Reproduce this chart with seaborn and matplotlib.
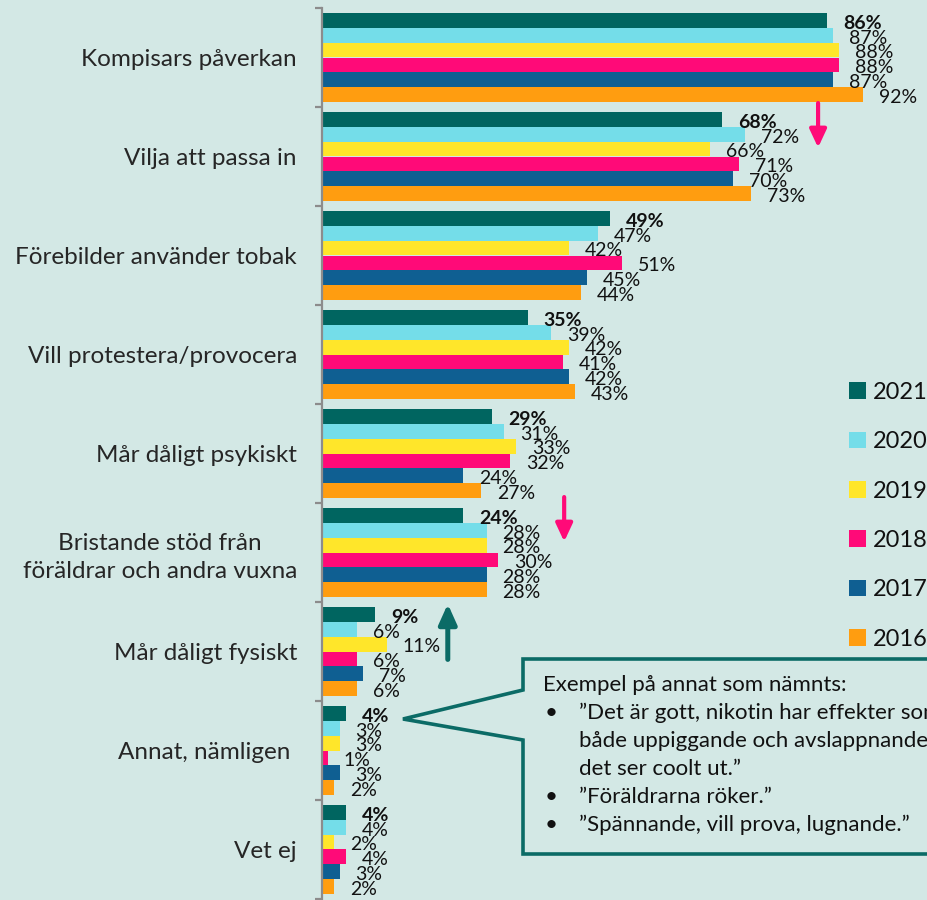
import matplotlib
matplotlib.use("Agg")
import matplotlib.pyplot as plt
import seaborn as sns
import pandas as pd
from matplotlib.lines import Line2D
from matplotlib.patches import Patch

# ---------------- data ----------------
categories = [
    "Kompisars påverkan",
    "Vilja att passa in",
    "Förebilder använder tobak",
    "Vill protestera/provocera",
    "Mår dåligt psykiskt",
    "Bristande stöd från\nföräldrar och andra vuxna",
    "Mår dåligt fysiskt",
    "Annat, nämligen ",
    "Vet ej",
]
years = ["2021", "2020", "2019", "2018", "2017", "2016"]
v2021 = [86, 68, 49, 35, 29, 24, 9, 4, 4]
v2020 = [87, 72, 47, 39, 31, 28, 6, 3, 4]
v2019 = [88, 66, 42, 42, 33, 28, 11, 3, 2]
v2018 = [88, 71, 51, 41, 32, 30, 6, 1, 4]
v2017 = [87, 70, 45, 42, 24, 28, 7, 3, 3]
v2016 = [92, 73, 44, 43, 27, 28, 6, 2, 2]
series = [v2021, v2020, v2019, v2018, v2017, v2016]
colors = ["#006560", "#74dde9", "#ffe62a", "#ff0a78", "#0f5f92", "#ff9d10"]

callout_title = "Exempel på annat som nämnts:"
callout_lines = [
    ("\u2022", "\u201dDet är gott, nikotin har effekter som"),
    ("", "både uppiggande och avslappnande"),
    ("", "det ser coolt ut.\u201d"),
    ("\u2022", "\u201dFöräldrarna röker.\u201d"),
    ("\u2022", "\u201dSpännande, vill prova, lugnande.\u201d"),
]

rows = []
for yr, vals in zip(years, series):
    for c, v in zip(categories, vals):
        rows.append({"cat": c, "year": yr, "val": v})
df = pd.DataFrame(rows)

# ---------------- style ----------------
BG = "#d3e8e5"
sns.set_theme(style="white")
plt.rcParams["font.family"] = ["Lato", "DejaVu Sans"]
plt.rcParams["text.color"] = "#111111"

W, H = 928, 900
fig = plt.figure(figsize=(W / 100, H / 100), dpi=100, facecolor=BG)
ax_left, ax_right, ax_top, ax_bot = 322, 928, 8, 899
ax = fig.add_axes([ax_left / W, 1 - ax_bot / H, (ax_right - ax_left) / W, (ax_bot - ax_top) / H])
ax.set_facecolor(BG)

sns.barplot(data=df, y="cat", x="val", hue="year", hue_order=years, order=categories,
            palette=colors, saturation=1, orient="h", width=0.9, dodge=True, ax=ax,
            edgecolor="none", linewidth=0, legend=False)

ax.set_xlim(0, 103.1)
ax.set_ylim(len(categories) - 0.5, -0.5)
ax.set_xlabel("")
ax.set_ylabel("")
ax.set_xticks([])
for s in ["top", "right", "bottom"]:
    ax.spines[s].set_visible(False)
ax.spines["left"].set_color("#8c8c8c")
ax.spines["left"].set_linewidth(1.6)
ax.tick_params(axis="y", which="major", length=0, pad=18, labelsize=17.5)
ax.set_yticks(range(len(categories)), labels=categories)
for lab in ax.get_yticklabels():
    lab.set_multialignment("center")
    lab.set_linespacing(1.4)
ax.set_yticks([i - 0.5 for i in range(len(categories) + 1)], minor=True)
ax.tick_params(axis="y", which="minor", length=5, width=1.6, color="#8c8c8c", left=True)

# value labels
for i, cont in enumerate(ax.containers):
    for bar, v in zip(cont, series[i]):
        yc = bar.get_y() + bar.get_height() / 2
        ax.annotate(f"{v}%", xy=(bar.get_width(), yc), xytext=(11.5, -2),
                    textcoords="offset points", ha="left", va="center",
                    fontsize=14, fontweight="bold" if i == 0 else "normal",
                    color="#111111", annotation_clip=False)

# arrows (data coordinates)
def arrow(x, y0, y1, color, lw, hw, hl):
    ax.annotate("", xy=(x, y1), xytext=(x, y0),
                arrowprops=dict(arrowstyle=f"-|>,head_width={hw},head_length={hl}",
                                lw=lw, color=color, shrinkA=0, shrinkB=0),
                annotation_clip=False)

arrow(84.4, 0.46, 0.91, "#ff0a78", 3.0, 0.42, 0.9)
arrow(41.2, 4.44, 4.89, "#ff0a78", 3.0, 0.42, 0.9)
arrow(21.4, 6.08, 5.52, "#0b6b66", 3.6, 0.45, 1.0)

# legend
handles = [Patch(facecolor=c, edgecolor="none") for c in colors]
leg = fig.legend(handles, years, loc="upper left", bbox_to_anchor=(849 / W, 1 - 382 / H),
                 frameon=False, fontsize=17, handlelength=0.72, handleheight=0.72,
                 handletextpad=0.28, labelspacing=1.2, borderpad=0, borderaxespad=0)

# callout box (figure pixel coordinates -> fraction)
def fx(px):
    return px / W

def fy(py):
    return 1 - py / H

teal = "#0b6b66"
xs = [W, 523, 523, 403, 523, 523, W]
ys = [659, 659, 690, 719, 740, 854, 854]
fig.patches.append(plt.Polygon(list(zip([fx(x) for x in xs], [fy(y) for y in ys])),
                               closed=True, transform=fig.transFigure,
                               facecolor=BG, edgecolor="none", zorder=3))
fig.add_artist(Line2D([fx(x) for x in xs], [fy(y) for y in ys], color=teal, lw=2.6,
                      solid_joinstyle="miter", transform=fig.transFigure, zorder=4))

fig.text(fx(543), fy(683), callout_title, fontsize=16, va="center_baseline", ha="left", zorder=5)
for k, (b, t) in enumerate(callout_lines):
    yy = 711 + 28 * k
    if b:
        fig.text(fx(545), fy(yy), b, fontsize=16, va="center_baseline", ha="left", zorder=5)
    fig.text(fx(579), fy(yy), t, fontsize=16, va="center_baseline", ha="left", zorder=5)

fig.savefig("out.png", dpi=100, facecolor=BG)
